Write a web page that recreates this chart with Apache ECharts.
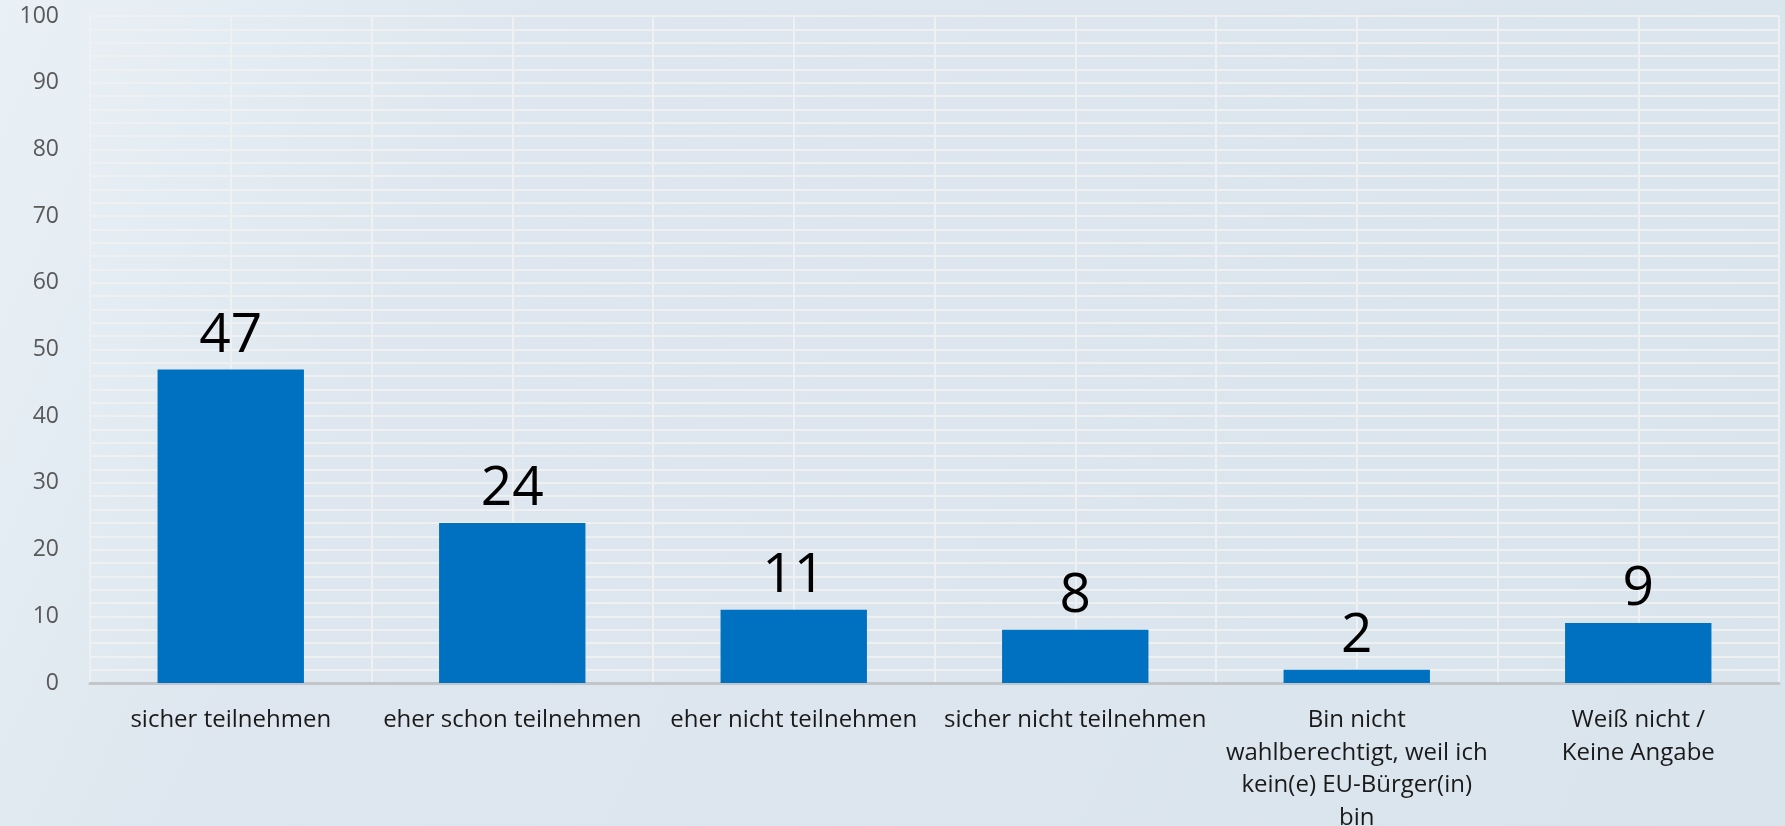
<!DOCTYPE html>
<html>
<head>
<meta charset="utf-8">
<script src="https://cdn.jsdelivr.net/npm/echarts@6/dist/echarts.min.js"></script>
<style>
html,body{margin:0;padding:0;width:1785px;height:826px;overflow:hidden;}
#c{width:1785px;height:826px;}
</style>
</head>
<body>
<div id="c"></div>
<script>
const categories = [
  "sicher teilnehmen",
  "eher schon teilnehmen",
  "eher nicht teilnehmen",
  "sicher nicht teilnehmen",
  "Bin nicht\nwahlberechtigt, weil ich\nkein(e) EU-Bürger(in)\nbin",
  "Weiß nicht /\nKeine Angabe"
];
const values = [47, 24, 11, 8, 2, 9];
const yMin = 0, yMax = 100, yStep = 10;

const chart = echarts.init(document.getElementById('c'), null, {renderer: 'canvas'});
const gridColor = '#eef0f2';
chart.setOption({
  animation: false,
  backgroundColor: {
    type: 'linear', x: 0, y: 0, x2: 1, y2: 1,
    colorStops: [
      {offset: 0, color: '#e9f1f6'},
      {offset: 0.25, color: '#dee7ef'},
      {offset: 1, color: '#dae4ed'}
    ]
  },
  grid: {left: 90, right: 6, top: 16, bottom: 143, containLabel: false, outerBoundsMode: 'none'},
  xAxis: [
    {
      type: 'category',
      data: categories,
      axisLine: {show: true, lineStyle: {color: '#c3c6c9', width: 3}},
      axisTick: {show: false},
      splitLine: {show: false},
      axisLabel: {
        interval: 0,
        margin: 21,
        color: '#1a1a1a',
        fontFamily: 'Open Sans',
        fontSize: 24,
        lineHeight: 32.5
      }
    },
    {
      type: 'value',
      min: 0, max: 12, interval: 1,
      show: true,
      position: 'bottom',
      axisLine: {show: false},
      axisTick: {show: false},
      axisLabel: {show: false},
      splitLine: {show: true, lineStyle: {color: gridColor, width: 2}}
    }
  ],
  yAxis: {
    type: 'value',
    min: yMin, max: yMax, interval: yStep,
    axisLine: {show: false},
    axisTick: {show: false},
    axisLabel: {
      margin: 31,
      color: '#595959',
      fontFamily: 'Open Sans',
      fontSize: 23
    },
    splitLine: {show: true, lineStyle: {color: gridColor, width: 2}},
    minorTick: {show: false, splitNumber: 5},
    minorSplitLine: {show: true, lineStyle: {color: gridColor, width: 2}}
  },
  series: [{
    type: 'bar',
    xAxisIndex: 0,
    data: values,
    barWidth: '52%',
    itemStyle: {color: '#0070c0'},
    label: {
      show: true,
      position: 'top',
      distance: 6,
      color: '#000000',
      fontFamily: 'Open Sans',
      fontSize: 55
    }
  }]
});
</script>
</body>
</html>
